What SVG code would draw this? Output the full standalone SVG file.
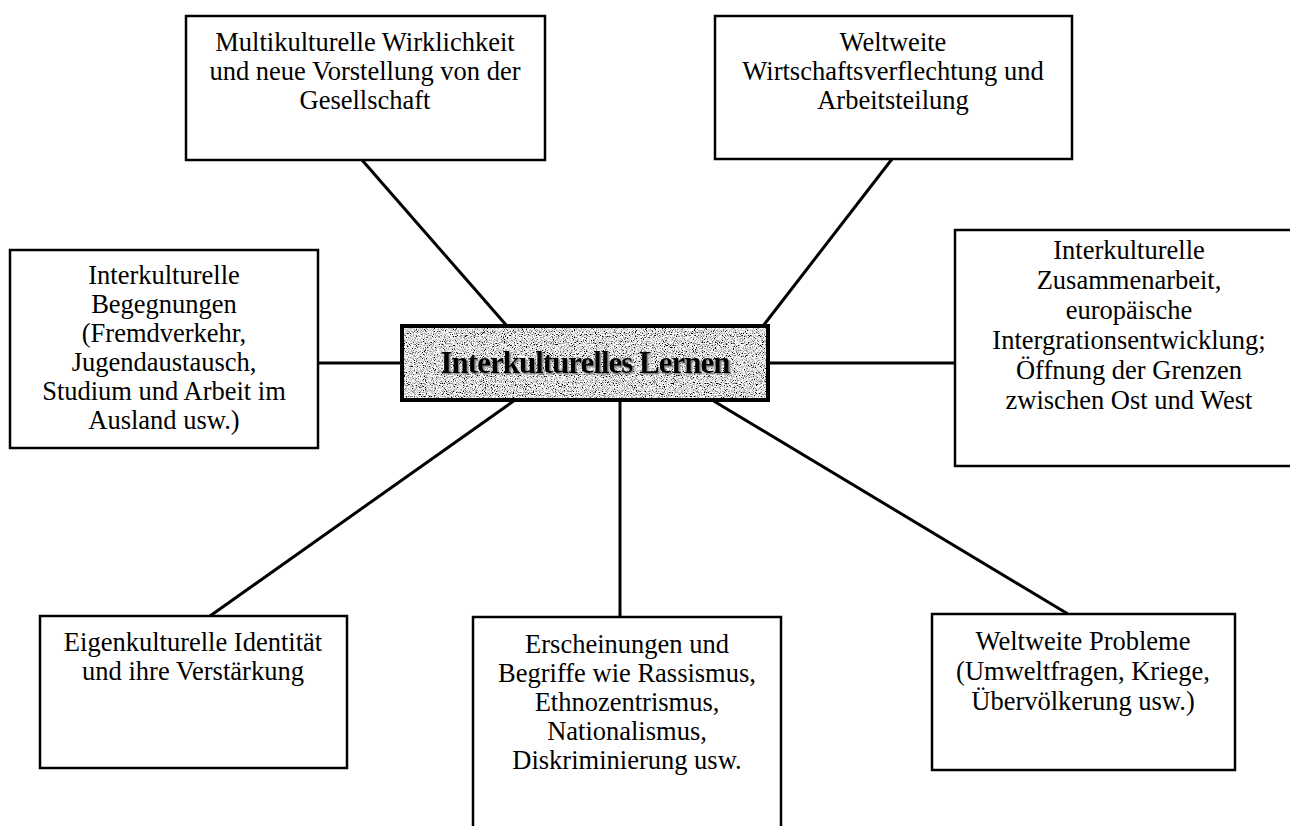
<svg xmlns="http://www.w3.org/2000/svg" width="1290" height="826" viewBox="0 0 1290 826">
<style>
.box{fill:#fff;stroke:#000;stroke-width:2.5}
.t{font-family:"Liberation Serif","Times New Roman",serif;font-size:26.5px;fill:#000;text-anchor:middle}
.c{stroke:#000;stroke-width:3;fill:none}
.ct{font-family:"Liberation Serif","Times New Roman",serif;font-size:31px;font-weight:bold;fill:#000;text-anchor:middle;letter-spacing:-1px}
</style>
<defs>
<filter id="grain" x="0" y="0" width="1" height="1">
<feTurbulence type="fractalNoise" baseFrequency="0.9" numOctaves="2" seed="7"/>
<feColorMatrix type="matrix" values="3.5 0 0 0 -1.0  3.5 0 0 0 -1.0  3.5 0 0 0 -1.0  0 0 0 0 1"/>
</filter>
<filter id="shadow" x="-5%" y="-20%" width="110%" height="140%">
<feDropShadow dx="1.5" dy="1.5" stdDeviation="0.3" flood-color="#888"/>
</filter>
</defs>
<rect width="1290" height="826" fill="#fff"/>
<g id="connectors">
<line class="c" x1="362" y1="160" x2="507" y2="326"/>
<line class="c" x1="892" y1="159" x2="763" y2="326"/>
<line class="c" x1="318" y1="363" x2="402" y2="363"/>
<line class="c" x1="768" y1="363" x2="955" y2="363"/>
<line class="c" x1="515" y1="400" x2="210" y2="616"/>
<line class="c" x1="620" y1="400" x2="620" y2="617"/>
<line class="c" x1="712" y1="400" x2="1068" y2="614"/>
</g>
<g id="center">
<rect x="402" y="326" width="366" height="74" fill="#fff"/>
<rect x="402" y="326" width="366" height="74" filter="url(#grain)"/>
<rect x="402" y="326" width="366" height="74" fill="none" stroke="#000" stroke-width="4"/>
<text class="ct" x="585" y="373" filter="url(#shadow)">Interkulturelles Lernen</text>
</g>
<g id="n1">
<rect class="box" x="186" y="16" width="359" height="144"/>
<text class="t" x="365" y="51">Multikulturelle Wirklichkeit</text>
<text class="t" x="365" y="80">und neue Vorstellung von der</text>
<text class="t" x="365" y="109">Gesellschaft</text>
</g>
<g id="n2">
<rect class="box" x="715" y="16" width="357" height="143"/>
<text class="t" x="893" y="51">Weltweite</text>
<text class="t" x="893" y="80">Wirtschaftsverflechtung und</text>
<text class="t" x="893" y="109">Arbeitsteilung</text>
</g>
<g id="n3">
<rect class="box" x="10" y="250" width="308" height="198"/>
<text class="t" x="164" y="284">Interkulturelle</text>
<text class="t" x="164" y="313">Begegnungen</text>
<text class="t" x="164" y="342">(Fremdverkehr,</text>
<text class="t" x="164" y="371">Jugendaustausch,</text>
<text class="t" x="164" y="400">Studium und Arbeit im</text>
<text class="t" x="164" y="429">Ausland usw.)</text>
</g>
<g id="n4">
<rect class="box" x="955" y="230" width="350" height="236"/>
<text class="t" x="1129" y="259">Interkulturelle</text>
<text class="t" x="1129" y="289">Zusammenarbeit,</text>
<text class="t" x="1129" y="319">europäische</text>
<text class="t" x="1129" y="349">Intergrationsentwicklung;</text>
<text class="t" x="1129" y="379">Öffnung der Grenzen</text>
<text class="t" x="1129" y="409">zwischen Ost und West</text>
</g>
<g id="n5">
<rect class="box" x="40" y="616" width="307" height="152"/>
<text class="t" x="193" y="651">Eigenkulturelle Identität</text>
<text class="t" x="193" y="680">und ihre Verstärkung</text>
</g>
<g id="n6">
<rect class="box" x="473" y="617" width="308" height="230"/>
<text class="t" x="627" y="653">Erscheinungen und</text>
<text class="t" x="627" y="682">Begriffe wie Rassismus,</text>
<text class="t" x="627" y="711">Ethnozentrismus,</text>
<text class="t" x="627" y="740">Nationalismus,</text>
<text class="t" x="627" y="769">Diskriminierung usw.</text>
</g>
<g id="n7">
<rect class="box" x="932" y="614" width="303" height="156"/>
<text class="t" x="1083" y="650">Weltweite Probleme</text>
<text class="t" x="1083" y="680">(Umweltfragen, Kriege,</text>
<text class="t" x="1083" y="710">Übervölkerung usw.)</text>
</g>
</svg>
